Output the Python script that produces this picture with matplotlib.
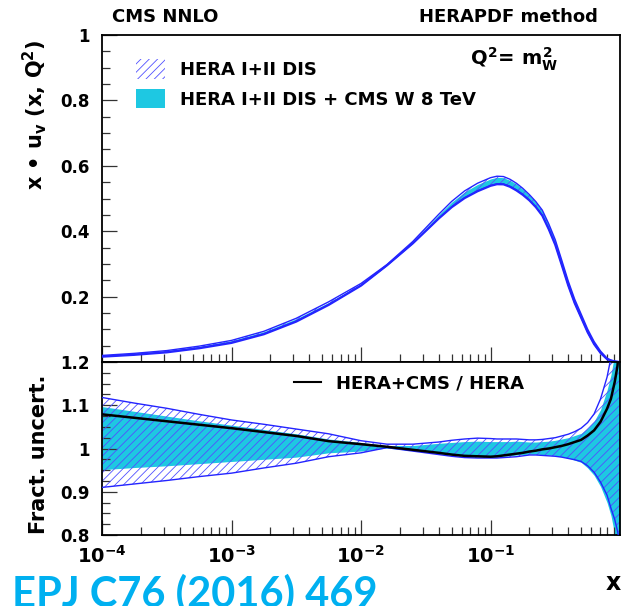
import numpy as np
import matplotlib
matplotlib.use("Agg")
import matplotlib.pyplot as plt
from matplotlib.patches import Patch
from matplotlib.lines import Line2D
from matplotlib.ticker import FixedLocator, MultipleLocator, LogLocator, NullFormatter

plt.rcParams['font.family'] = ['DejaVu Sans']
plt.rcParams['font.weight'] = 'bold'
plt.rcParams['mathtext.fontset'] = 'custom'
plt.rcParams['mathtext.rm'] = 'DejaVu Sans:bold'
plt.rcParams['mathtext.it'] = 'DejaVu Sans:bold'
plt.rcParams['mathtext.bf'] = 'DejaVu Sans:bold'
plt.rcParams['hatch.linewidth'] = 0.6

# log10(x) grid the curves are read on
logx = [-4, -3.75, -3.5, -3.25, -3, -2.75, -2.5, -2.25, -2, -1.8, -1.6, -1.4,
        -1.3, -1.2, -1.1, -1.0, -0.95, -0.9, -0.85, -0.8, -0.75, -0.7, -0.65,
        -0.6, -0.55, -0.5, -0.45, -0.4, -0.35, -0.3, -0.25, -0.2, -0.15, -0.1,
        -0.07, -0.04, -0.02, 0.0]

# x*u_v(x, Q^2=mW^2), HERA I+II central
xuv = [0.018, 0.024, 0.032, 0.045, 0.062, 0.089, 0.128, 0.178, 0.236, 0.295,
       0.365, 0.445, 0.482, 0.512, 0.534, 0.551, 0.556, 0.555, 0.547, 0.535,
       0.520, 0.502, 0.481, 0.455, 0.413, 0.365, 0.303, 0.24, 0.185, 0.14,
       0.095, 0.058, 0.03, 0.01, 0.005, 0.002, 0.001, 0.0]

# fractional bands relative to HERA central
hera_hi = [1.118, 1.105, 1.093, 1.079, 1.066, 1.056, 1.045, 1.034, 1.018, 1.010,
           1.010, 1.015, 1.019, 1.022, 1.024, 1.023, 1.022, 1.022, 1.022, 1.022,
           1.021, 1.020, 1.020, 1.021, 1.023, 1.025, 1.029, 1.033, 1.039, 1.047,
           1.060, 1.080, 1.115, 1.165, 1.21, 1.27, 1.33, 1.40]
hera_lo = [0.910, 0.918, 0.926, 0.935, 0.943, 0.955, 0.966, 0.981, 0.990, 1.002,
           0.994, 0.986, 0.982, 0.979, 0.978, 0.978, 0.978, 0.979, 0.980, 0.981,
           0.983, 0.985, 0.985, 0.984, 0.983, 0.982, 0.980, 0.977, 0.974, 0.970,
           0.960, 0.945, 0.922, 0.892, 0.862, 0.835, 0.81, 0.78]
cms_hi = [1.097, 1.086, 1.075, 1.064, 1.054, 1.044, 1.034, 1.022, 1.014, 1.007,
          1.007, 1.012, 1.014, 1.016, 1.017, 1.016, 1.016, 1.016, 1.016, 1.017,
          1.016, 1.015, 1.015, 1.016, 1.017, 1.019, 1.022, 1.025, 1.030, 1.035,
          1.047, 1.063, 1.09, 1.135, 1.17, 1.22, 1.27, 1.35]
cms_lo = [0.951, 0.956, 0.960, 0.965, 0.970, 0.975, 0.980, 0.990, 0.994, 1.001,
          0.995, 0.988, 0.985, 0.982, 0.981, 0.980, 0.981, 0.982, 0.983, 0.985,
          0.986, 0.987, 0.987, 0.986, 0.985, 0.984, 0.981, 0.978, 0.973, 0.968,
          0.955, 0.938, 0.912, 0.875, 0.845, 0.80, 0.77, 0.72]
ratio = [1.079, 1.071, 1.063, 1.055, 1.047, 1.038, 1.029, 1.017, 1.010, 1.004,
         0.997, 0.990, 0.986, 0.983, 0.982, 0.981, 0.982, 0.984, 0.986, 0.988,
         0.990, 0.993, 0.995, 0.998, 1.000, 1.003, 1.006, 1.010, 1.015, 1.020,
         1.030, 1.042, 1.062, 1.092, 1.115, 1.155, 1.19, 1.26]

xticks = [1e-4, 1e-3, 1e-2, 1e-1]
xticklabels = ['$10^{-4}$', '$10^{-3}$', '$10^{-2}$', '$10^{-1}$']

cyan = '#1ec8e2'
blue = '#2424ff'
hatch_blue = '#5050ff'

x = 10 ** np.array(logx)
xuv = np.array(xuv)
hera_hi, hera_lo = np.array(hera_hi), np.array(hera_lo)
cms_hi, cms_lo = np.array(cms_hi), np.array(cms_lo)

fig = plt.figure(figsize=(6.25, 6.06), dpi=100)
ax1 = fig.add_axes([0.1632, 0.4026, 0.8288, 0.5396])
ax2 = fig.add_axes([0.1632, 0.1172, 0.8288, 0.2854], sharex=ax1)

# upper panel: the PDF with both bands
ax1.fill_between(x, xuv * cms_lo, xuv * cms_hi, color=cyan, lw=0, zorder=1)
ax1.fill_between(x, xuv * hera_lo, xuv * hera_hi, facecolor='none',
                 edgecolor=hatch_blue, hatch='////', lw=0, zorder=2)
ax1.plot(x, xuv * hera_hi, color=blue, lw=1.0, zorder=3)
ax1.plot(x, xuv * hera_lo, color=blue, lw=1.6, zorder=3)
ax1.plot(x, xuv * cms_lo, color=blue, lw=0.8, zorder=3)

# lower panel: fractional uncertainties and ratio
ax2.fill_between(x, cms_lo, cms_hi, color=cyan, lw=0, zorder=1)
ax2.fill_between(x, hera_lo, hera_hi, facecolor='none',
                 edgecolor=hatch_blue, hatch='////', lw=0, zorder=2)
ax2.plot(x, hera_hi, color=blue, lw=1.0, zorder=3)
ax2.plot(x, hera_lo, color=blue, lw=1.0, zorder=3)
ax2.plot(x, ratio, color='black', lw=1.8, zorder=4)

for ax in (ax1, ax2):
    ax.set_xscale('log')
    ax.set_xlim(1e-4, 1.0)
    ax.xaxis.set_major_locator(FixedLocator(xticks))
    ax.xaxis.set_minor_locator(LogLocator(base=10, subs=np.arange(2, 10)))
    ax.xaxis.set_minor_formatter(NullFormatter())
    ax.tick_params(which='both', direction='in', top=False, right=False,
                   width=0.9, color='#333333', labelsize=12)
    ax.tick_params(which='major', length=11, pad=9)
    ax.tick_params(which='minor', length=6)
    for sp in ax.spines.values():
        sp.set_linewidth(1.3)

ax1.set_ylim(0, 1.0)
ax1.yaxis.set_major_locator(FixedLocator([0.2, 0.4, 0.6, 0.8, 1.0]))
ax1.yaxis.set_minor_locator(MultipleLocator(0.05))
ax1.set_yticklabels(['0.2', '0.4', '0.6', '0.8', '1'])
ax1.tick_params(axis='x', labelbottom=False)

ax2.set_ylim(0.8, 1.2)
ax2.yaxis.set_major_locator(FixedLocator([0.8, 0.9, 1.0, 1.1, 1.2]))
ax2.yaxis.set_minor_locator(MultipleLocator(0.025))
ax2.set_yticklabels(['0.8', '0.9', '1', '1.1', '1.2'])
ax2.set_xticklabels(xticklabels, fontsize=14)
ax2.tick_params(axis='x', pad=7)

ax1.legend(
    handles=[Patch(facecolor='none', edgecolor=hatch_blue, hatch='////', lw=0),
             Patch(facecolor=cyan, lw=0)],
    labels=['HERA I+II DIS', 'HERA I+II DIS + CMS W 8 TeV'],
    loc='upper left', bbox_to_anchor=(0.035, 0.975), frameon=False,
    fontsize=13, handlelength=1.6, handleheight=1.25, labelspacing=0.55,
    handletextpad=0.8)

ax2.legend(handles=[Line2D([], [], color='black', lw=1.5)],
           labels=['HERA+CMS / HERA'], loc='upper left',
           bbox_to_anchor=(0.34, 1.02), frameon=False, fontsize=13,
           handlelength=1.5, handletextpad=0.8)

ax1.text(0.71, 0.925, '$Q^2$= $m_W^2$', transform=ax1.transAxes,
         fontsize=14, va='center', ha='left')

fig.text(0.179, 0.972, 'CMS NNLO', fontsize=13, va='center', ha='left')
fig.text(0.957, 0.972, 'HERAPDF method', fontsize=13, va='center', ha='right')
fig.text(0.045, 1.004, '(a)', fontsize=13, va='baseline', ha='left')

fig.text(0.056, 0.81, 'x • u$_v$ (x, Q$^2$)', rotation=90, fontsize=15,
         va='center', ha='center')
fig.text(0.062, 0.25, 'Fract. uncert.', rotation=90, fontsize=15,
         va='center', ha='center')
fig.text(0.981, 0.038, 'x', fontsize=17, va='center', ha='center')

fig.text(0.019, -0.001, 'EPJ C76 (2016) 469', color='#00b0f0',
         family=['Lato', 'DejaVu Sans'], weight='bold', fontsize=30,
         va='baseline', ha='left')

fig.savefig('out.png', dpi=100)
